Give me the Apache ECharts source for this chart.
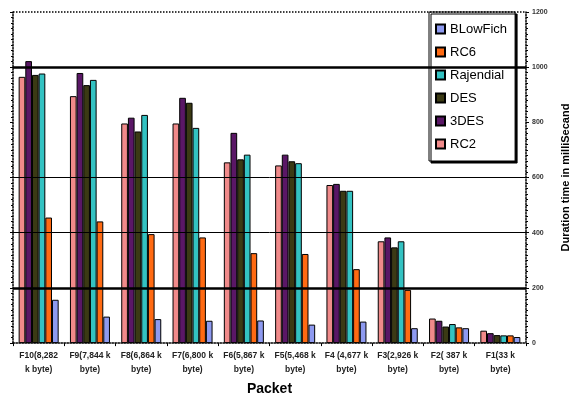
<!DOCTYPE html>
<html>
<head>
<meta charset="utf-8">
<script src="https://cdn.jsdelivr.net/npm/echarts@6/dist/echarts.min.js"></script>
<style>html,body{margin:0;padding:0;background:#fff;}#c{width:579px;height:401px;}</style>
</head>
<body>
<div id="c"></div>
<script>
var categories = ["F10(8,282\nk byte)", "F9(7,844 k\nbyte)", "F8(6,864 k\nbyte)", "F7(6,800 k\nbyte)", "F6(5,867 k\nbyte)", "F5(5,468 k\nbyte)", "F4 (4,677 k\nbyte)", "F3(2,926 k\nbyte)", "F2( 387 k\nbyte)", "F1(33 k\nbyte)"];
var rc2       = [965, 895, 796, 796, 655, 644, 573, 369, 89, 45];
var des3      = [1022, 979, 817, 889, 762, 683, 577, 383, 81, 36];
var des       = [972, 935, 767, 871, 666, 659, 552, 347, 60, 29];
var rajendial = [977, 954, 827, 780, 683, 652, 552, 369, 69, 28];
var rc6       = [455, 441, 395, 383, 326, 323, 268, 193, 57, 28];
var blowfish  = [157, 96, 87, 81, 82, 67, 78, 54, 54, 22];
var yTicks = [0, 200, 400, 600, 800, 1000, 1200];
var gridThin = [400, 600];
var gridThick = [200, 1000];

var font = 'Liberation Sans, Arial, sans-serif';
var chart = echarts.init(document.getElementById('c'));
function bar(name, data, color) {
  return {
    name: name, type: 'bar', data: data, barGap: '0%', barCategoryGap: '22%', z: 3,
    itemStyle: { color: color, borderColor: '#000', borderWidth: 1 }
  };
}
var marks = gridThin.map(function (v) { return { yAxis: v, lineStyle: { width: 1, color: '#000', type: 'solid' } }; })
  .concat(gridThick.map(function (v) { return { yAxis: v, lineStyle: { width: 2.5, color: '#000', type: 'solid' } }; }));
chart.setOption({
  animation: false,
  textStyle: { fontFamily: font },
  grid: { left: 13, right: 49, top: 12, bottom: 55, show: true, borderColor: '#000', borderWidth: 0 },
  legend: {
    orient: 'vertical', left: 429, top: 12, width: 99, height: 138,
    data: ['BLowFich', 'RC6', 'Rajendial', 'DES', '3DES', 'RC2'],
    icon: 'rect',
    itemWidth: 9, itemHeight: 9, itemGap: 9,
    padding: [10, 8, 10, 6],
    backgroundColor: '#fff', borderColor: '#000', borderWidth: 1,
    shadowColor: '#000', shadowOffsetX: 2, shadowOffsetY: 2, shadowBlur: 0.01,
    textStyle: { fontSize: 13, color: '#000', lineHeight: 14, fontFamily: font }
  },
  xAxis: {
    type: 'category', data: categories,
    name: 'Packet', nameLocation: 'middle', nameGap: 37,
    nameTextStyle: { fontSize: 14, fontWeight: 'bold', color: '#000', fontFamily: font },
    axisLine: { lineStyle: { color: '#000', type: 'dotted', width: 1.5 } },
    axisTick: { show: true, length: 3, lineStyle: { color: '#000' } },
    axisLabel: { interval: 0, fontSize: 8.5, color: '#222', fontWeight: 'bold', lineHeight: 14, margin: 6 }
  },
  yAxis: [{
    type: 'value', position: 'right', min: 0, max: 1200, interval: 200,
    name: 'Duration time in milliSecand', nameLocation: 'middle', nameGap: 34, nameRotate: 90,
    nameTextStyle: { fontSize: 11, fontWeight: 'bold', color: '#000', fontFamily: font },
    axisLine: { show: true, lineStyle: { color: '#000', type: 'dotted', width: 1.5 } },
    axisTick: { show: true, length: 3, lineStyle: { color: '#000' } },
    minorTick: { show: true, splitNumber: 10, length: 2, lineStyle: { color: '#000' } },
    splitLine: { show: false },
    axisLabel: { fontSize: 7, color: '#333', fontWeight: 'bold', margin: 6,
      formatter: function (v) { return yTicks.indexOf(v) >= 0 ? String(v) : ''; } }
  }, {
    type: 'value', position: 'left', min: 0, max: 1200, interval: 200,
    axisLine: { show: true, lineStyle: { color: '#000', type: 'dotted', width: 1.5 } },
    axisTick: { show: true, length: 3, inside: false, lineStyle: { color: '#000' } },
    minorTick: { show: true, splitNumber: 10, length: 2, lineStyle: { color: '#000' } },
    splitLine: { show: false }, axisLabel: { show: false }
  }],
  series: [
    { type: 'line', data: [], z: 1, silent: true, yAxisIndex: 0,
      markLine: { silent: true, symbol: 'none', label: { show: false }, data: marks,
        lineStyle: { color: '#000' } } },
    { type: 'line', data: [], z: 1, silent: true, yAxisIndex: 0,
      markLine: { silent: true, symbol: 'none', label: { show: false },
        data: [{ yAxis: 1200 }], lineStyle: { color: '#000', type: 'dotted', width: 1.5 } } },
    bar('RC2', rc2, '#f08a8a'),
    bar('3DES', des3, '#5a1766'),
    bar('DES', des, '#3b3a14'),
    bar('Rajendial', rajendial, '#33c2c2'),
    bar('RC6', rc6, '#ff6a12'),
    bar('BLowFich', blowfish, '#8e9af0')
  ]
});
</script>
</body>
</html>
